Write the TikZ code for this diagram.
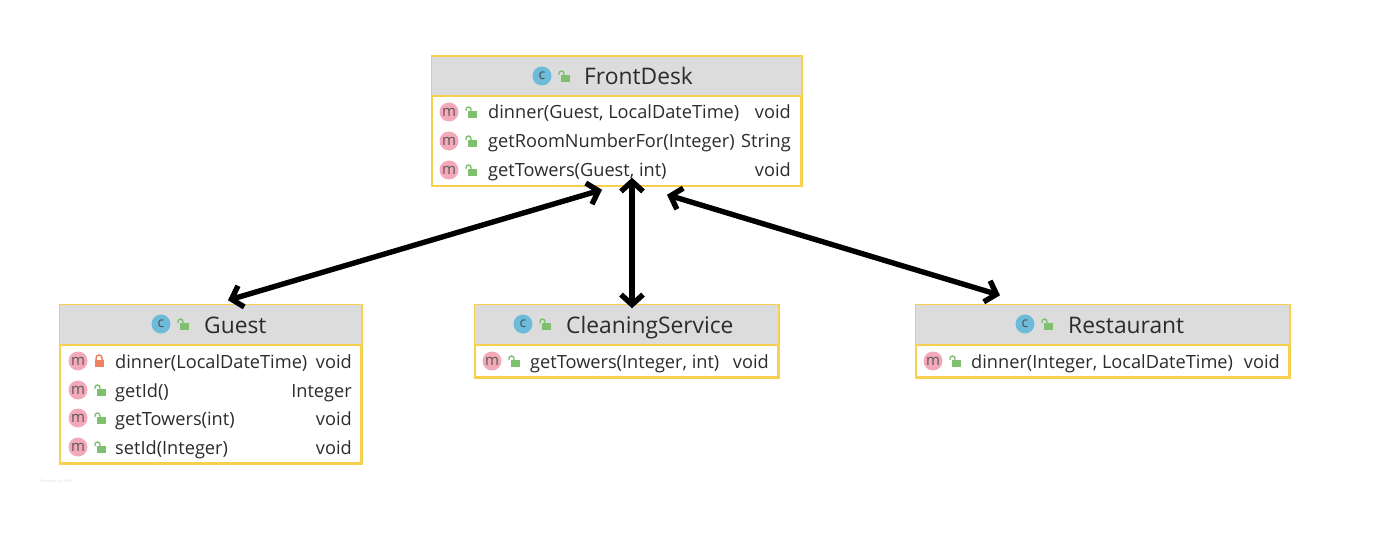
\documentclass[tikz,border=0pt]{standalone}
\usepackage{fontspec}
\setmainfont{Open Sans}
\usetikzlibrary{arrows.meta}
\usetikzlibrary{positioning}
\definecolor{boxedge}{HTML}{F8D050}
\definecolor{headgray}{HTML}{DCDCDC}
\definecolor{badgepink}{HTML}{F4A9B9}
\definecolor{badgeblue}{HTML}{6DBBDB}
\definecolor{lockgreen}{HTML}{7FC06E}
\definecolor{lockred}{HTML}{EE8262}
\definecolor{inkgray}{HTML}{2B2B2B}
\tikzstyle{arrow} = [line width=5.4pt,{Straight Barb[length=10pt,width=22pt]}-{Straight Barb[length=10pt,width=22pt]}]
\tikzstyle{classbox} = [rectangle, draw=boxedge, line width=1.5pt, inner sep=0pt]
\tikzstyle{mbadge} = [circle, fill=badgepink, minimum size=19pt, inner sep=0pt, text=black!65, font=\fontsize{15}{15}\selectfont]
\tikzstyle{cbadge} = [circle, fill=badgeblue, minimum size=19pt, inner sep=0pt, text=black!70, font=\fontsize{14}{14}\selectfont]
\tikzstyle{titletext} = [anchor=base west, inner sep=0pt, text=inkgray, font=\fontsize{22.8}{24}\selectfont]
\tikzstyle{methodtext} = [anchor=base west, inner sep=0pt, text=inkgray, font=\fontsize{18.2}{20}\selectfont]
\tikzstyle{typetext} = [anchor=base east, inner sep=0pt, text=inkgray, font=\fontsize{18.2}{20}\selectfont]
\tikzset{
    lockopen/.pic={
        \fill [lockgreen] (-2,-1) rectangle (7,6);
        \draw [lockgreen, line width=1.4pt] (1,-1) -- (1,-2.5) arc (0:-180:2.5) -- (-4,-1);
    },
    lockshut/.pic={
        \fill [lockred] (-4.5,-1) rectangle (4.5,6);
        \draw [lockred, line width=1.5pt] (-3,-1) -- (-3,-3) arc (180:360:3) -- (3,-1);
    }
}
% one row of a class: name, y, badge x, lock pic, text x, right x, text, type
\newcommand{\methodrow}[8]{
    \node (#1m) [mbadge] at (#3,#2) {m};
    \pic at (#3+21,#2) {#4};
    \node (#1t) [methodtext] at (#5,#2+7) {#7};
    \node (#1r) [typetext] at (#6,#2+7) {#8};
}
% header band of a class: box name, top, bottom, left, right, badge x, text x, title
\newcommand{\classhead}[8]{
    \fill [headgray] (#4,#2) rectangle (#5,#3);
    \draw [boxedge, line width=1.5pt] (#4,#3) -- (#5,#3);
    \draw [boxedge, line width=1.5pt] (#1.north west) rectangle (#1.south east);
    \node (#1c) [cbadge] at (#6,#2+19) {c};
    \pic at (#6+21,#2+19) {lockopen};
    \node (#1title) [titletext] at (#7,#2+28) {#8};
}

\begin{document}
\begin{tikzpicture}[x=1pt,y=-1pt]
\useasboundingbox (0,0) rectangle (1377,559);

\node (frontdesk) [classbox, minimum width=369pt, minimum height=129pt] at (616.5,121.5) {};
\node (guest) [classbox, minimum width=301pt, minimum height=158pt] at (210.5,384) {};
\node (cleaning) [classbox, minimum width=303pt, minimum height=72pt] at (626.5,341) {};
\node (restaurant) [classbox, minimum width=373pt, minimum height=72pt] at (1102.5,341) {};

\classhead{frontdesk}{57}{96}{432}{801}{542}{584}{FrontDesk}
\classhead{guest}{305}{345}{60}{361}{161}{204}{Guest}
\classhead{cleaning}{305}{345}{475}{778}{523}{566}{CleaningService}
\classhead{restaurant}{305}{345}{916}{1289}{1025}{1068}{Restaurant}

\methodrow{fd1}{112}{449}{lockopen}{488}{791}{dinner(Guest, LocalDateTime)}{void}
\methodrow{fd2}{141}{449}{lockopen}{488}{791}{getRoomNumberFor(Integer)}{String}
\methodrow{fd3}{170}{449}{lockopen}{488}{791}{getTowers(Guest, int)}{void}

\methodrow{gu1}{361}{78}{lockshut}{115}{352}{dinner(LocalDateTime)}{void}
\methodrow{gu2}{390}{78}{lockopen}{115}{352}{getId()}{Integer}
\methodrow{gu3}{418}{78}{lockopen}{115}{352}{getTowers(int)}{void}
\methodrow{gu4}{447}{78}{lockopen}{115}{352}{setId(Integer)}{void}

\methodrow{cl1}{361}{492}{lockopen}{530}{769}{getTowers(Integer, int)}{void}

\methodrow{re1}{361}{933}{lockopen}{971}{1280}{dinner(Integer, LocalDateTime)}{void}

\node (credit) [anchor=base west, inner sep=0pt, text=black!12, font=\fontsize{4}{4}\selectfont] at (40,482) {Powered by yFiles};

\draw [arrow] ([xshift=-14.5pt,yshift=-3pt]frontdesk.south) -- ([xshift=17.5pt,yshift=4pt]guest.north);
\draw [arrow] ([xshift=15.5pt,yshift=9pt]frontdesk.south) -- ([xshift=5.5pt,yshift=-4pt]cleaning.north);
\draw [arrow] ([xshift=50.5pt,yshift=-8pt]frontdesk.south) -- ([xshift=-102.5pt,yshift=9pt]restaurant.north);
\end{tikzpicture}
\end{document}
